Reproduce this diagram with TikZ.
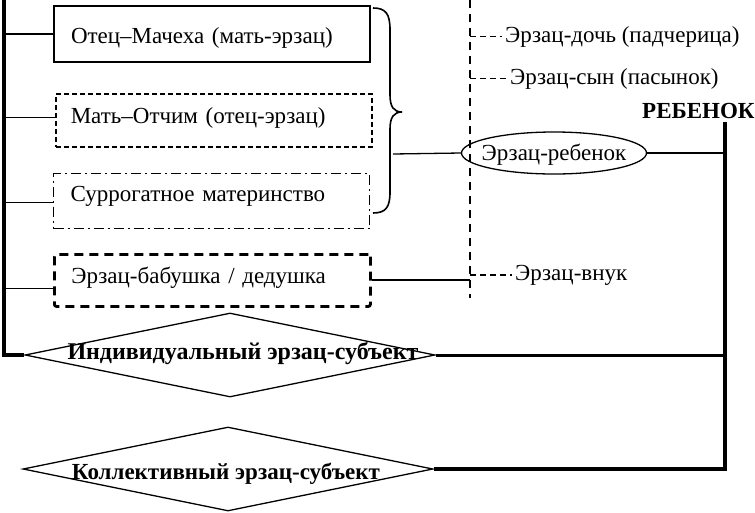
\documentclass[tikz,border=0pt]{standalone}
\usepackage{fontspec}
\setmainfont{Liberation Serif}
\usetikzlibrary{shapes.geometric}
\begin{document}
\begin{tikzpicture}[x=1pt,y=-1pt, font=\fontsize{23}{27}\selectfont,
  thinline/.style={line width=1.3pt},
  spine/.style={line width=3.5pt, line join=miter},
  boxbase/.style={minimum width=316pt, text width=282pt, inner xsep=17pt, inner ysep=0pt, align=left, anchor=north west},
  solidbox/.style={boxbase, draw, line width=2pt},
  dashbox/.style={boxbase, draw, line width=1.6pt, dash pattern=on 5pt off 3pt},
  dotdashbox/.style={boxbase, draw, line width=1pt, dash pattern=on 10pt off 4pt on 2pt off 4pt},
  thickdashbox/.style={boxbase, draw, line width=2.8pt, dash pattern=on 9pt off 6pt, rounded corners=2pt},
  rhomb/.style={diamond, draw, line width=1.3pt, inner sep=0pt, minimum width=410pt, minimum height=84pt},
  boldtxt/.style={font=\fontsize{23}{27}\selectfont\bfseries},
  plain/.style={inner xsep=3pt, inner ysep=0pt, anchor=base west},
  dashlink/.style={line width=1.3pt, dash pattern=on 6pt off 4pt},
  vdash/.style={line width=1.5pt, dash pattern=on 8pt off 6pt},
]
\useasboundingbox (0,0) rectangle (755,512);

% boxes
\node[solidbox, minimum height=56pt, text height=18pt, text depth=0pt] (b1) at (53,5) {Отец–Мачеха (мать-эрзац)};
\node[dashbox, minimum height=53pt, text height=13pt, text depth=6pt, inner xsep=15pt, text width=286pt] (b2) at (55,93) {Мать–Отчим (отец-эрзац)};
\node[dotdashbox, minimum height=55pt, text height=8pt, text depth=8pt] (b3) at (53,173) {Суррогатное материнство};
\node[thickdashbox, minimum height=52pt, text height=12pt, text depth=6pt] (b4) at (53,253) {Эрзац-бабушка / дедушка};

% diamonds
\node[rhomb, label={[font=\fontsize{24}{28}\selectfont\bfseries, xshift=13pt, yshift=2pt]center:Индивидуальный эрзац-субъект}] (d1) at (230,355) {};
\node[rhomb, label={[boldtxt, xshift=-2pt, yshift=-5pt]center:Коллективный эрзац-субъект}] (d2) at (228,469) {};

% ellipse
\node[ellipse, draw, line width=1.3pt, minimum width=185pt, minimum height=42pt, inner sep=0pt,
      label={[xshift=0pt, yshift=-1.5pt]center:Эрзац-ребенок}] (er) at (554,153) {};

% texts
\node[boldtxt, inner sep=0pt, anchor=base west] (reb) at (642,118) {РЕБЕНОК};
\node[plain] (doch) at (502,42) {Эрзац-дочь (падчерица)};
\node[plain] (syn) at (507,84) {Эрзац-сын (пасынок)};
\node[plain] (vnuk) at (512,280) {Эрзац-внук};

% coordinates
\coordinate (ltop) at (4,0);
\coordinate (vtop) at (470,0);
\coordinate (vbot) at (470,298);
\coordinate (rtop) at (725,122);
\coordinate (bm) at (393,154);

% left spine and stubs
\draw[spine] (ltop) -- (ltop |- d1.west) -- (d1.west);
\draw[thinline] (b1.west) -- (b1.west -| ltop);
\draw[thinline] ([yshift=2.5pt]b2.west) -- ([yshift=2.5pt]b2.west -| ltop);
\draw[thinline] ([yshift=-1.5pt]b3.west) -- ([yshift=-1.5pt]b3.west -| ltop);
\draw[thinline] ([yshift=-8pt]b4.west) -- ([yshift=-8pt]b4.west -| ltop);

% right spine
\draw[spine] (rtop) -- (rtop |- d2.east) -- (d2.east);
\draw[line width=3pt] (d1.east) -- (d1.east -| rtop);
\draw[line width=2pt] (er.east) -- (er.east -| rtop);

% brace
\draw[line width=1.6pt] (373,8) .. controls (386,8) and (390,14) .. (390,30) -- (390,95)
  .. controls (390,107) and (394,112) .. (402,112)
  .. controls (394,112) and (390,117) .. (390,129) -- (390,192)
  .. controls (390,207) and (386,213) .. (373,213);
\draw[thinline] (bm) -- (er.west);

% grand-child link
\draw[line width=2pt] (b4.east) -- (b4.east -| vtop);

% vertical dashed line and its links
\draw[vdash] (vtop) -- (vbot);
\draw[dashlink] (vtop |- doch.west) -- (doch.west);
\draw[dashlink] (vtop |- syn.west) -- (syn.west);
\draw[dashlink] (vtop |- vnuk.west) -- (vnuk.west);
\end{tikzpicture}
\end{document}
